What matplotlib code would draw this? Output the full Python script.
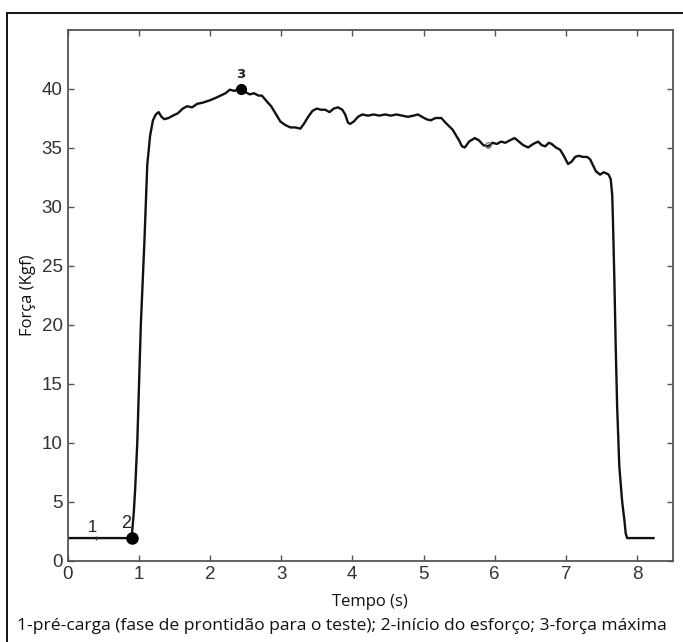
import matplotlib
matplotlib.use("Agg")
import matplotlib.pyplot as plt
from matplotlib.patches import Rectangle

# ---- data ----
time_s = [0.00, 0.90, 0.93, 0.95, 0.98, 1.03, 1.08, 1.12, 1.16, 1.20, 1.24, 1.28,
          1.32, 1.36, 1.42, 1.48, 1.55, 1.62, 1.68, 1.75, 1.82, 1.90, 2.00, 2.08,
          2.15, 2.22, 2.28, 2.34, 2.43, 2.50, 2.56, 2.62, 2.68, 2.73, 2.80, 2.86,
          2.92, 2.99, 3.06, 3.13, 3.20, 3.27, 3.32, 3.38, 3.44, 3.50, 3.56, 3.62,
          3.68, 3.74, 3.80, 3.86, 3.90, 3.94, 3.97, 4.02, 4.08, 4.14, 4.22, 4.30,
          4.38, 4.46, 4.54, 4.62, 4.70, 4.78, 4.86, 4.92, 4.98, 5.04, 5.10, 5.17,
          5.25, 5.31, 5.36, 5.41, 5.46, 5.50, 5.54, 5.58, 5.64, 5.72, 5.78, 5.84,
          5.91, 5.97, 6.03, 6.09, 6.15, 6.21, 6.28, 6.34, 6.40, 6.47, 6.54, 6.61,
          6.66, 6.71, 6.76, 6.80, 6.86, 6.92, 6.97, 7.03, 7.08, 7.13, 7.18, 7.24,
          7.30, 7.34, 7.38, 7.42, 7.48, 7.53, 7.57, 7.60, 7.63, 7.65, 7.66, 7.68,
          7.70, 7.72, 7.75, 7.79, 7.82, 7.84, 7.86, 8.23]
force_kgf = [1.9, 1.9, 4.0, 6.0, 10.0, 20.0, 27.0, 33.5, 36.0, 37.3, 37.8, 38.0,
             37.6, 37.4, 37.5, 37.7, 37.9, 38.3, 38.5, 38.4, 38.7, 38.8, 39.0, 39.2,
             39.4, 39.6, 39.9, 39.8, 40.0, 39.7, 39.5, 39.6, 39.4, 39.4, 38.9, 38.5,
             37.9, 37.2, 36.9, 36.7, 36.7, 36.6, 37.0, 37.6, 38.1, 38.3, 38.2, 38.2,
             38.0, 38.3, 38.4, 38.2, 37.8, 37.1, 37.0, 37.2, 37.6, 37.8, 37.7, 37.8,
             37.7, 37.8, 37.7, 37.8, 37.7, 37.6, 37.7, 37.8, 37.6, 37.4, 37.3, 37.5,
             37.5, 37.1, 36.8, 36.5, 36.0, 35.6, 35.1, 35.0, 35.5, 35.8, 35.6, 35.2,
             35.1, 35.4, 35.3, 35.5, 35.4, 35.6, 35.8, 35.5, 35.2, 35.0, 35.3, 35.5,
             35.2, 35.1, 35.4, 35.3, 35.0, 34.8, 34.3, 33.6, 33.8, 34.2, 34.3, 34.2,
             34.2, 34.0, 33.5, 33.0, 32.7, 32.9, 32.8, 32.7, 32.3, 31.0, 29.0, 24.0,
             18.0, 13.0, 8.0, 5.0, 3.5, 2.3, 1.9, 1.9]

# annotated points: 1 = pre-load, 2 = effort start, 3 = max force
point_labels = ["1", "2", "3"]
point_t = [0.40, 0.90, 2.43]
point_f = [1.9, 1.9, 40.0]

x_ticks = [0, 1, 2, 3, 4, 5, 6, 7, 8]
y_ticks = [0, 5, 10, 15, 20, 25, 30, 35, 40]
x_label = "Tempo (s)"
y_label = "Força (Kgf)"
caption = "1-pré-carga (fase de prontidão para o teste); 2-início do esforço; 3-força máxima"

# ---- figure ----
W, H = 683, 642
fig = plt.figure(figsize=(W / 100, H / 100), dpi=100)
ax = fig.add_axes([67.5 / W, 1 - 560.5 / H, (672.7 - 67.5) / W, (560.5 - 29.5) / H])

ax.plot(time_s, force_kgf, color="#111111", lw=1.7, solid_joinstyle="round")

# markers
ax.plot([point_t[1]], [point_f[1]], "o", color="black", ms=8)
ax.plot([point_t[2]], [point_f[2]], "o", color="black", ms=7)
ax.plot([point_t[0]], [point_f[0]], marker="|", color="#333333", ms=3, mew=1)
ax.plot([5.9], [35.2], "o", mfc="none", mec="#666666", ms=4, mew=0.8)

tick_font = ["Liberation Sans", "DejaVu Sans"]
ax.text(point_t[0] - 0.05, point_f[0] + 0.3, point_labels[0], fontsize=12,
        family=tick_font, ha="center", va="bottom", color="#222222")
ax.text(point_t[1] - 0.08, point_f[1] + 0.5, point_labels[1], fontsize=13,
        family=tick_font, ha="center", va="bottom", color="#222222")
ax.text(point_t[2], point_f[2] + 0.6, point_labels[2], fontsize=9.5,
        family="DejaVu Sans", fontweight="bold", ha="center", va="bottom", color="#222222")

ax.set_xlim(0, 8.5)
ax.set_ylim(0, 45)
ax.set_xticks(x_ticks)
ax.set_yticks(y_ticks)
ax.set_xticklabels([str(v) for v in x_ticks], family=tick_font, fontsize=13.5, color="#333333")
ax.set_yticklabels([str(v) for v in y_ticks], family=tick_font, fontsize=13.5, color="#333333")
ax.tick_params(axis="x", pad=4)
ax.tick_params(direction="in", length=4, width=1, color="#555555", top=True, right=True)
for s in ax.spines.values():
    s.set_color("#555555")
    s.set_linewidth(1.3)

ax.set_xlabel(x_label, family="Open Sans", fontsize=12, color="#111111", labelpad=8)
ax.set_ylabel(y_label, family="Open Sans", fontsize=12, color="#111111", labelpad=4)

fig.text(342 / W, 1 - 626 / H, caption, family="Open Sans", fontsize=12.6,
         ha="center", va="center", color="#111111")

# outer frame
fig.patches.append(Rectangle((7 / W, -0.02), 1.0, 1 - 12.5 / H + 0.02, transform=fig.transFigure,
                             fill=False, edgecolor="black", lw=1.3, clip_on=False))

fig.savefig("out.png", dpi=100)
